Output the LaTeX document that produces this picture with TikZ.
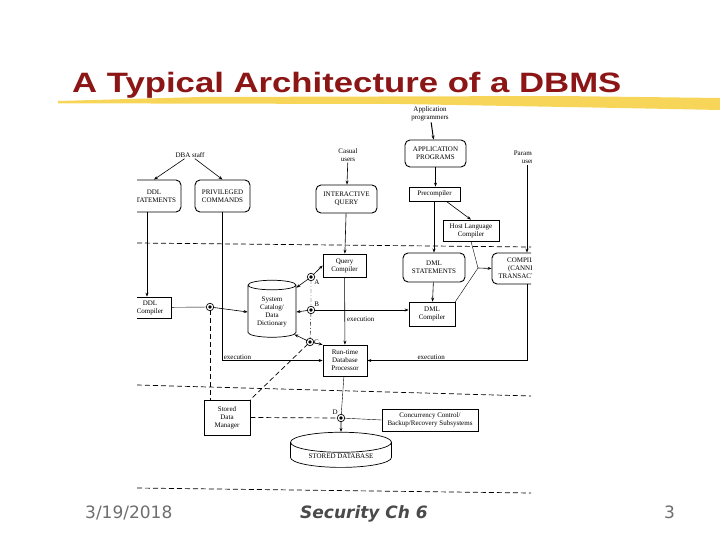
\documentclass[tikz,border=0pt]{standalone}
\usepackage{fontspec}
\setmainfont{Liberation Serif}
\newfontfamily\titlefont[FakeStretch=1.24]{Liberation Sans}
\newfontfamily\footfont{DejaVu Sans}
\usetikzlibrary{arrows.meta,shapes.geometric}
\definecolor{titlered}{HTML}{8C1515}
\definecolor{marker}{HTML}{F4CE3C}
\definecolor{footgray}{HTML}{4A4A4A}

\begin{document}
\begin{tikzpicture}[x=1pt,y=-1pt,
  lbl/.style={font=\fontsize{7}{8}\selectfont,align=center,inner sep=1pt},
  box/.style={draw,lbl,inner sep=1pt,line width=0.7pt},
  rbox/.style={box,rounded corners=5pt,line width=0.9pt},
  disk/.style={draw,lbl,cylinder,shape border rotate=90,aspect=0.3,line width=0.7pt},
  hub/.style={circle,draw,fill=black,double=white,double distance=1.4pt,line width=0.8pt,
    inner sep=0pt,minimum size=5pt},
  arr/.style={-{Stealth[length=4pt,width=3pt]},line width=0.6pt},
  cut/.style={dashed,line width=0.7pt,dash pattern=on 5pt off 3pt}
]
\useasboundingbox (0,0) rectangle (720,540);

\fill[marker,opacity=0.85] (58,101) -- (200,97) -- (560,96) -- (720,98) -- (720,110)
  -- (620,108) -- (400,104) -- (150,103.5) -- (58,103.5) -- cycle;
\node[anchor=base west,inner sep=0pt,text=titlered,font=\titlefont\bfseries\fontsize{28}{30}\selectfont]
  (title) at (72,93) {A Typical Architecture of a DBMS};

\begin{scope}
\clip (137,100) rectangle (531,500);

\node[lbl] (apptxt) at (430,114) {Application\\programmers};
\node[lbl] (casual) at (348,155) {Casual\\users};
\node[lbl] (dba) at (190,155) {DBA staff};
\node[lbl] (param) at (529,157) {Parametric\\users};

\node[rbox,minimum width=61pt,minimum height=27pt] (apprg) at (435.5,153.5) {APPLICATION\\PROGRAMS};
\node[rbox,minimum width=61pt,minimum height=28pt] (iquery) at (346.5,199) {INTERACTIVE\\QUERY};
\node[rbox,minimum width=54pt,minimum height=32pt] (ddl) at (154,196) {DDL\\STATEMENTS};
\node[rbox,minimum width=55pt,minimum height=32pt] (priv) at (222.5,196) {PRIVILEGED\\COMMANDS};
\node[box,minimum width=51pt,minimum height=14pt] (precomp) at (434.5,194) {Precompiler};
\node[box,minimum width=56pt,minimum height=21pt] (hostc) at (471,230.5) {Host Language\\Compiler};
\node[box,minimum width=43pt,minimum height=23pt] (qcomp) at (344.5,265.5) {Query\\Compiler};
\node[rbox,minimum width=62pt,minimum height=29pt] (dmlst) at (434,267.5) {DML\\STATEMENTS};
\node[rbox,minimum width=66pt,minimum height=31pt] (canned) at (525,268.5) {COMPILED\\(CANNED)\\TRANSACTIONS};
\node[box,minimum width=46pt,minimum height=24pt] (dmlc) at (432,314) {DML\\Compiler};
\node[box,minimum width=42pt,minimum height=21pt] (ddlc) at (150,307.5) {DDL\\Compiler};
\node[disk,minimum width=48pt,minimum height=57pt] (catalog) at (272,312) {System\\Catalog/\\Data\\Dictionary};
\node[box,minimum width=44pt,minimum height=31pt] (rtdp) at (345,360.5) {Run-time\\Database\\Processor};
\node[box,minimum width=46pt,minimum height=35pt] (sdm) at (227,417.5) {Stored\\Data\\Manager};
\node[box,minimum width=96pt,minimum height=22pt] (ccbr) at (430,420) {Concurrency Control/\\Backup/Recovery Subsystems};
\node[disk,minimum width=101pt,minimum height=34pt] (sdb) at (341,456) {STORED DATABASE};

\node[hub] (hE) at (210,307) {};
\node[hub,label={[lbl]below right:A}] (hA) at (311,277) {};
\node[hub,label={[lbl]above right:B}] (hB) at (311,310) {};
\node[hub,label={[lbl]right:C}] (hC) at (310,342) {};
\node[hub,label={[lbl]above left:D}] (hD) at (341,418) {};
\coordinate (jn) at (478,268);

\draw[cut] (137,243) -- (531,247);
\draw[cut] (137,385) -- (531,396);
\draw[cut] (137,488) -- (531,493);

\draw[arr,line width=1pt] (apptxt) -- (apprg);
\draw[arr] (apprg) -- (apprg |- precomp.north);
\draw[arr] (casual) -- (iquery);
\draw[arr] (dba) -- (ddl.north);
\draw[arr] (dba) -- (priv.north);
\draw[arr] ([xshift=-2pt]param.south) -- ([xshift=-2pt]param.south |- canned.north);
\draw[arr] ([xshift=-14pt]precomp.south east) -- (hostc.north);
\draw[arr] (precomp.south -| dmlst) -- (dmlst.north);
\draw[arr] (iquery) -- (qcomp);
\draw (hostc.south) -- (jn);
\draw (dmlc.north east) -- (jn);
\draw[arr] (jn) -- (canned.west);
\draw[arr] (dmlst) -- (dmlc);
\draw[arr] ([xshift=-3pt]ddlc.north |- ddl.south) -- ([xshift=-3pt]ddlc.north);
\draw (ddlc) -- (hE);
\draw[arr] (hE) -- (catalog.west);
\draw[cut] (hE) -- (hE |- sdm.north);
\draw[arr] (priv.south) |- (rtdp.west) node[lbl,pos=0.5,above right] {execution};
\draw[arr] (qcomp) -- (rtdp) node[lbl,pos=0.62,right=1pt] {execution};
\draw[arr] (hA) -- (qcomp.west);
\draw[arr] (hA) -- (catalog.north east);
\draw[dash pattern=on 4pt off 2pt on 1pt off 2pt] (hA) -- (hB) -- (hC);
\draw[arr] (hB) -- (catalog.east);
\draw[arr] (hB) -- (hB -| dmlc.west);
\draw[arr] (hC) -- (catalog.south east);
\draw[arr] (hC) -- (rtdp.north west);
\draw[cut] (hC) -- (sdm.north east);
\draw[arr] ([xshift=2pt]canned.south) |- (rtdp.east) node[lbl,pos=0.8,above] {execution};
\draw (rtdp) -- (hD);
\draw[arr] (hD) -- (sdb.north);
\draw[cut] (sdm.east) -- (hD);
\draw (hD) -- (ccbr.west);
\end{scope}

\node[anchor=base west,inner sep=0pt,text=footgray!80,font=\footfont\fontsize{17}{19}\selectfont]
  (date) at (85,518) {3/19/2018};
\node[anchor=base west,inner sep=0pt,text=footgray,font=\footfont\bfseries\itshape\fontsize{17}{19}\selectfont]
  (chap) at (300,518) {Security Ch 6};
\node[anchor=base west,inner sep=0pt,text=footgray!80,font=\footfont\fontsize{17}{19}\selectfont]
  (page) at (664,518) {3};
\end{tikzpicture}
\end{document}
